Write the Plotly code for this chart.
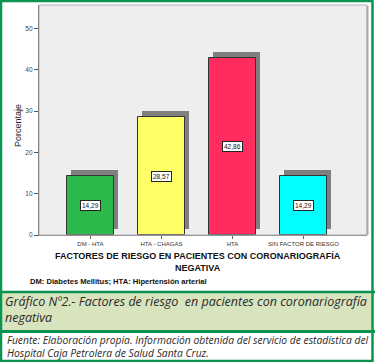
import plotly.graph_objects as go

categories = ["DM - HTA", "HTA - CHAGAS", "HTA", "SIN FACTOR DE RIESGO"]
percentages = [14.29, 28.57, 42.86, 14.29]
bar_colors = ["#2db84b", "#ffff66", "#ff2d5f", "#00ffff"]
y_ticks = [0, 10, 20, 30, 40, 50]

W, H = 375, 362
L, R, T, B = 39, 367, 5, 235  # plot area in pixels

def px(x):
    return (x - L) / (R - L)

def py(y):
    return (B - y) / (B - T)

xpos = list(range(len(categories)))
shadow_dx = 0.056
shadow_dy = 1.4

fig = go.Figure()
fig.add_trace(go.Bar(
    x=[i + shadow_dx for i in xpos], y=percentages, base=[shadow_dy] * len(percentages),
    width=0.665, marker=dict(color="#7f7f7f", line=dict(width=0)), hoverinfo="skip",
    showlegend=False,
))
fig.add_trace(go.Bar(
    x=xpos, y=percentages, width=0.665,
    marker=dict(color=bar_colors, line=dict(color="#333333", width=1)),
    showlegend=False,
))

annotations = []
for i, v in zip(xpos, percentages):
    annotations.append(dict(
        x=i, y=v / 2, xref="x", yref="y", text=f"{v:.2f}".replace(".", ","),
        xanchor="center", yanchor="middle",
        showarrow=False, font=dict(family="Liberation Sans", size=6.5, color="#111"),
        bgcolor="white", bordercolor="#222", borderwidth=1, borderpad=1,
    ))

def note(x, y, text, size, family="Liberation Sans", xanchor="center", align="center", angle=0, color="#111"):
    annotations.append(dict(
        x=px(x), y=py(y), xref="paper", yref="paper", text=text, textangle=angle,
        xanchor=xanchor, yanchor="middle", align=align, showarrow=False,
        font=dict(family=family, size=size, color=color),
    ))

note(18, 126, "Porcentaje", 9, angle=-90, color="#222")
note(198, 261.5, "<b>FACTORES DE RIESGO EN PACIENTES CON CORONARIOGRAFÍA<br>NEGATIVA</b>", 9)
note(28, 281, "<b>DM: Diabetes Mellitus; HTA: Hipertensión arterial</b>", 7.6, xanchor="left")
note(3, 309.5, "<i>Gráfico Nº2.- Factores de riesgo  en pacientes con coronariografía<br>negativa</i>",
     12.5, family="Open Sans", xanchor="left", align="left", color="#2a2a2a")
note(5, 346, "<i>Fuente: Elaboración propia. Información obtenida del servicio de estadística del<br>Hospital Caja Petrolera de Salud Santa Cruz.</i>",
     10.3, family="Open Sans", xanchor="left", align="left", color="#2a2a2a")

green = "#0a9450"
shapes = [
    dict(type="rect", xref="paper", yref="paper", x0=0, x1=1, y0=0, y1=1,
         line=dict(color="#b4b4b4", width=1), layer="above"),
    dict(type="line", xref="paper", yref="paper", x0=px(367.5), x1=px(367.5), y0=py(235), y1=py(6),
         line=dict(color="#a8a8a8", width=2), layer="above"),
    dict(type="rect", xref="paper", yref="paper", x0=px(2), x1=px(371), y0=py(330), y1=py(293),
         fillcolor="#d7e4bd", line=dict(width=0), layer="below"),
    dict(type="line", xref="paper", yref="paper", x0=px(0), x1=px(375), y0=py(292), y1=py(292),
         line=dict(color=green, width=2.5)),
    dict(type="line", xref="paper", yref="paper", x0=px(0), x1=px(375), y0=py(331.5), y1=py(331.5),
         line=dict(color=green, width=3)),
    dict(type="rect", xref="paper", yref="paper", x0=px(1), x1=px(372.5), y0=py(361), y1=py(1),
         line=dict(color=green, width=2.5)),
]

fig.update_layout(
    width=W, height=H,
    margin=dict(l=L, r=W - R, t=T, b=H - B, pad=0),
    paper_bgcolor="white", plot_bgcolor="#eeeeee",
    barmode="overlay", bargap=0,
    font=dict(family="Liberation Sans", color="#333"),
    xaxis=dict(
        range=[-0.725, 3.894], tickvals=xpos, ticktext=categories,
        tickfont=dict(size=6, color="#333"), ticks="outside", ticklen=3, tickcolor="#666",
        showline=True, linecolor="#777", linewidth=1, showgrid=False, zeroline=False,
        fixedrange=True,
    ),
    yaxis=dict(
        range=[0, 55.7], tickvals=y_ticks, tickfont=dict(size=6.5, color="#444"),
        ticks="outside", ticklen=4, tickcolor="#555",
        showline=True, linecolor="#555", linewidth=1.2, showgrid=False, zeroline=False,
        fixedrange=True,
    ),
    annotations=annotations, shapes=shapes,
)

fig.write_html(
    "out.html",
    config={"displayModeBar": False},
    post_script="document.body.style.margin='0';document.body.style.overflow='hidden';",
)
